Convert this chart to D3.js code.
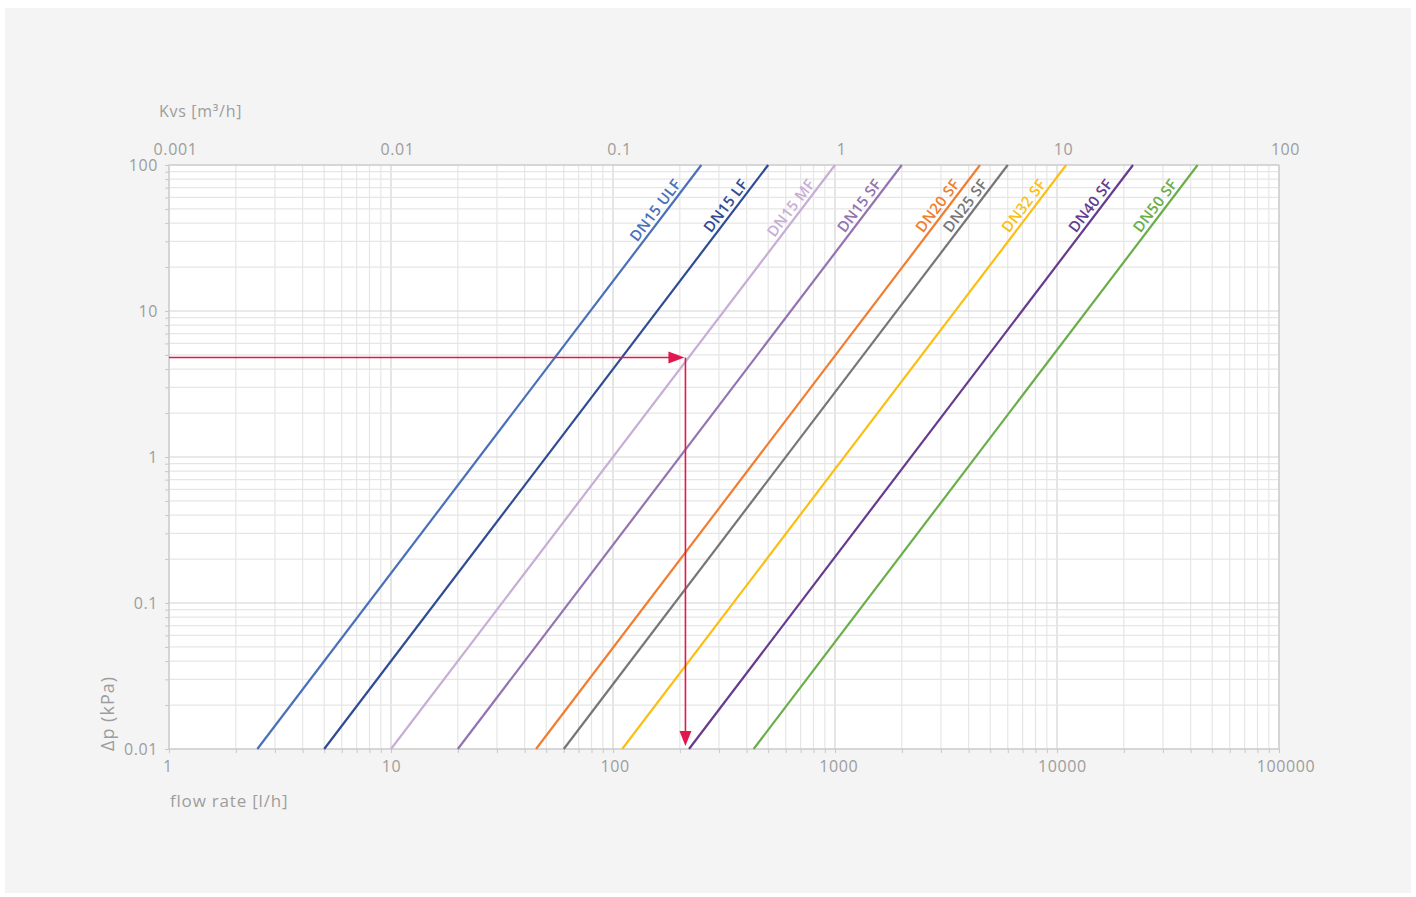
<!DOCTYPE html>
<html>
<head>
<meta charset="utf-8">
<script src="https://cdn.jsdelivr.net/npm/d3@7"></script>
<style>
  html, body { margin: 0; padding: 0; background: #ffffff; }
  svg { display: block; font-family: "Open Sans", "Noto Sans", sans-serif; }
</style>
</head>
<body>
<div id="chart_div"></div>
<script>
// valve series, flow rate [l/h] where each line meets 0.01 kPa and 100 kPa
var valveNames = ["DN15 ULF", "DN15 LF", "DN15 MF", "DN15 SF", "DN20 SF", "DN25 SF", "DN32 SF", "DN40 SF", "DN50 SF"];
var flowAtMin = [2.5, 5, 10, 20, 45, 60, 110, 220, 430];
var flowAtMax = [250, 500, 1000, 2000, 4500, 6000, 11000, 22000, 43000];
var dpRange = [0.01, 100];
var valveColors = ["#4a70b8", "#2f4b93", "#c8aed5", "#9474b0", "#f07d30", "#767676", "#fbbf14", "#663b8e", "#6aae4a"];

// tick labels
var flowTicks = [1, 10, 100, 1000, 10000, 100000];
var kvsTicks = [0.001, 0.01, 0.1, 1, 10, 100];
var dpTicks = [0.01, 0.1, 1, 10, 100];

// example reading (red arrow)
var arrowDp = 4.8;
var arrowFlow = 212;

var width = 1416, height = 897;
var plotLeft = 169, plotRight = 1279, plotTop = 165, plotBottom = 749;

var svg = d3.select("#chart_div")
    .append("svg")
    .attr("width", width)
    .attr("height", height);

svg.append("rect")
    .attr("x", 5).attr("y", 8)
    .attr("width", 1406).attr("height", 885)
    .style("fill", "#f4f4f4");

var x = d3.scaleLog().domain([1, 100000]).range([plotLeft, plotRight]);
var xKvs = d3.scaleLog().domain([0.001, 100]).range([plotLeft, plotRight]);
var y = d3.scaleLog().domain([0.01, 100]).range([plotBottom, plotTop]);

svg.append("rect")
    .attr("x", plotLeft).attr("y", plotTop)
    .attr("width", plotRight - plotLeft).attr("height", plotBottom - plotTop)
    .style("fill", "#ffffff");

// minor and major grid
var xAll = x.ticks(50);
var yAll = y.ticks(50);
function isMajor(v) { return Math.abs(Math.log10(v) - Math.round(Math.log10(v))) < 1e-6; }

svg.append("g").selectAll("line")
    .data(xAll)
    .enter().append("line")
    .attr("x1", function(d) { return x(d); })
    .attr("x2", function(d) { return x(d); })
    .attr("y1", plotTop).attr("y2", plotBottom)
    .style("stroke", function(d) { return isMajor(d) ? "#d4d4d4" : "#e6e6e6"; })
    .style("stroke-width", 1.2);

svg.append("g").selectAll("line")
    .data(yAll)
    .enter().append("line")
    .attr("y1", function(d) { return y(d); })
    .attr("y2", function(d) { return y(d); })
    .attr("x1", plotLeft).attr("x2", plotRight)
    .style("stroke", function(d) { return isMajor(d) ? "#d4d4d4" : "#e6e6e6"; })
    .style("stroke-width", 1.2);

svg.append("rect")
    .attr("x", plotLeft).attr("y", plotTop)
    .attr("width", plotRight - plotLeft).attr("height", plotBottom - plotTop)
    .style("fill", "none")
    .style("stroke", "#cccccc")
    .style("stroke-width", 1.2);

// axes
var xAxis = d3.axisBottom(x)
    .tickValues(xAll)
    .tickSize(4)
    .tickPadding(8)
    .tickFormat(function(d) { return flowTicks.indexOf(d) >= 0 ? d3.format("d")(d) : ""; });
var gx = svg.append("g")
    .attr("transform", "translate(0," + plotBottom + ")")
    .call(xAxis);

var yAxis = d3.axisLeft(y)
    .tickValues(yAll)
    .tickSize(4)
    .tickPadding(7)
    .tickFormat(function(d) { return dpTicks.indexOf(d) >= 0 ? String(d) : ""; });
var gy = svg.append("g")
    .attr("transform", "translate(" + plotLeft + ",0)")
    .call(yAxis);

var xTop = d3.axisTop(xKvs)
    .tickValues(kvsTicks)
    .tickSize(0)
    .tickPadding(10)
    .tickFormat(function(d) { return String(d); });
var gt = svg.append("g")
    .attr("transform", "translate(0," + plotTop + ")")
    .call(xTop);

[gx, gy, gt].forEach(function(g) {
    g.select(".domain").remove();
    g.selectAll(".tick line").style("stroke", "#c8c8c8");
    g.selectAll(".tick text")
        .style("fill", "#9d9d9d")
        .style("font-size", "16px")
        .style("letter-spacing", "0.6px")
        .style("font-family", "'Open Sans', 'Noto Sans', sans-serif");
});
gx.selectAll(".tick text").attr("dx", function(d) { return (String(d).length - 2) * 1.6; });
gt.selectAll(".tick text").attr("dx", 6);

// axis titles
svg.append("text")
    .attr("x", 159).attr("y", 117)
    .style("fill", "#9d9d9d").style("font-size", "16px").style("letter-spacing", "0.7px")
    .text("Kvs [m³/h]");

svg.append("text")
    .attr("x", 170).attr("y", 807)
    .style("fill", "#9d9d9d").style("font-size", "17px").style("letter-spacing", "0.8px")
    .text("flow rate [l/h]");

svg.append("text")
    .attr("transform", "translate(114,751) rotate(-90)")
    .style("fill", "#9d9d9d").style("font-size", "18px").style("letter-spacing", "1px")
    .text("Δp (kPa)");

// valve lines
var valves = valveNames.map(function(name, i) {
    return { name: name, color: valveColors[i], q0: flowAtMin[i], q1: flowAtMax[i] };
});

var lines = svg.append("g").selectAll(".valve")
    .data(valves)
    .enter().append("g")
    .attr("class", "valve");

lines.append("line")
    .attr("x1", function(d) { return x(d.q0); })
    .attr("y1", y(dpRange[0]))
    .attr("x2", function(d) { return x(d.q1); })
    .attr("y2", y(dpRange[1]))
    .style("stroke", function(d) { return d.color; })
    .style("stroke-width", 2.2);

lines.append("text")
    .attr("transform", function(d) {
        var x0 = x(d.q0), y0 = y(dpRange[0]), x1 = x(d.q1), y1 = y(dpRange[1]);
        var len = Math.sqrt((x1 - x0) * (x1 - x0) + (y1 - y0) * (y1 - y0));
        var ux = (x1 - x0) / len, uy = (y1 - y0) / len;
        var px = x1 - ux * 27, py = y1 - uy * 27;
        var ang = Math.atan2(uy, ux) * 180 / Math.PI;
        return "translate(" + px + "," + py + ") rotate(" + ang + ")";
    })
    .attr("dy", -4)
    .attr("text-anchor", "end")
    .style("fill", function(d) { return d.color; })
    .style("font-size", "15px")
    .style("font-weight", 600)
    .style("letter-spacing", "0.3px")
    .text(function(d) { return d.name; });

// red arrow reading
var red = "#e2174d";
svg.append("line")
    .attr("x1", plotLeft).attr("y1", y(arrowDp))
    .attr("x2", x(arrowFlow) - 14).attr("y2", y(arrowDp))
    .style("stroke", red).style("stroke-width", 1.6);
svg.append("path")
    .attr("d", d3.line()([[x(arrowFlow) - 17, y(arrowDp) - 6], [x(arrowFlow) - 1, y(arrowDp)], [x(arrowFlow) - 17, y(arrowDp) + 6]]))
    .style("fill", red);
svg.append("line")
    .attr("x1", x(arrowFlow)).attr("y1", y(arrowDp))
    .attr("x2", x(arrowFlow)).attr("y2", plotBottom - 16)
    .style("stroke", red).style("stroke-width", 1.6);
svg.append("path")
    .attr("d", d3.line()([[x(arrowFlow) - 6, plotBottom - 18], [x(arrowFlow), plotBottom - 3], [x(arrowFlow) + 6, plotBottom - 18]]))
    .style("fill", red);
</script>
</body>
</html>
